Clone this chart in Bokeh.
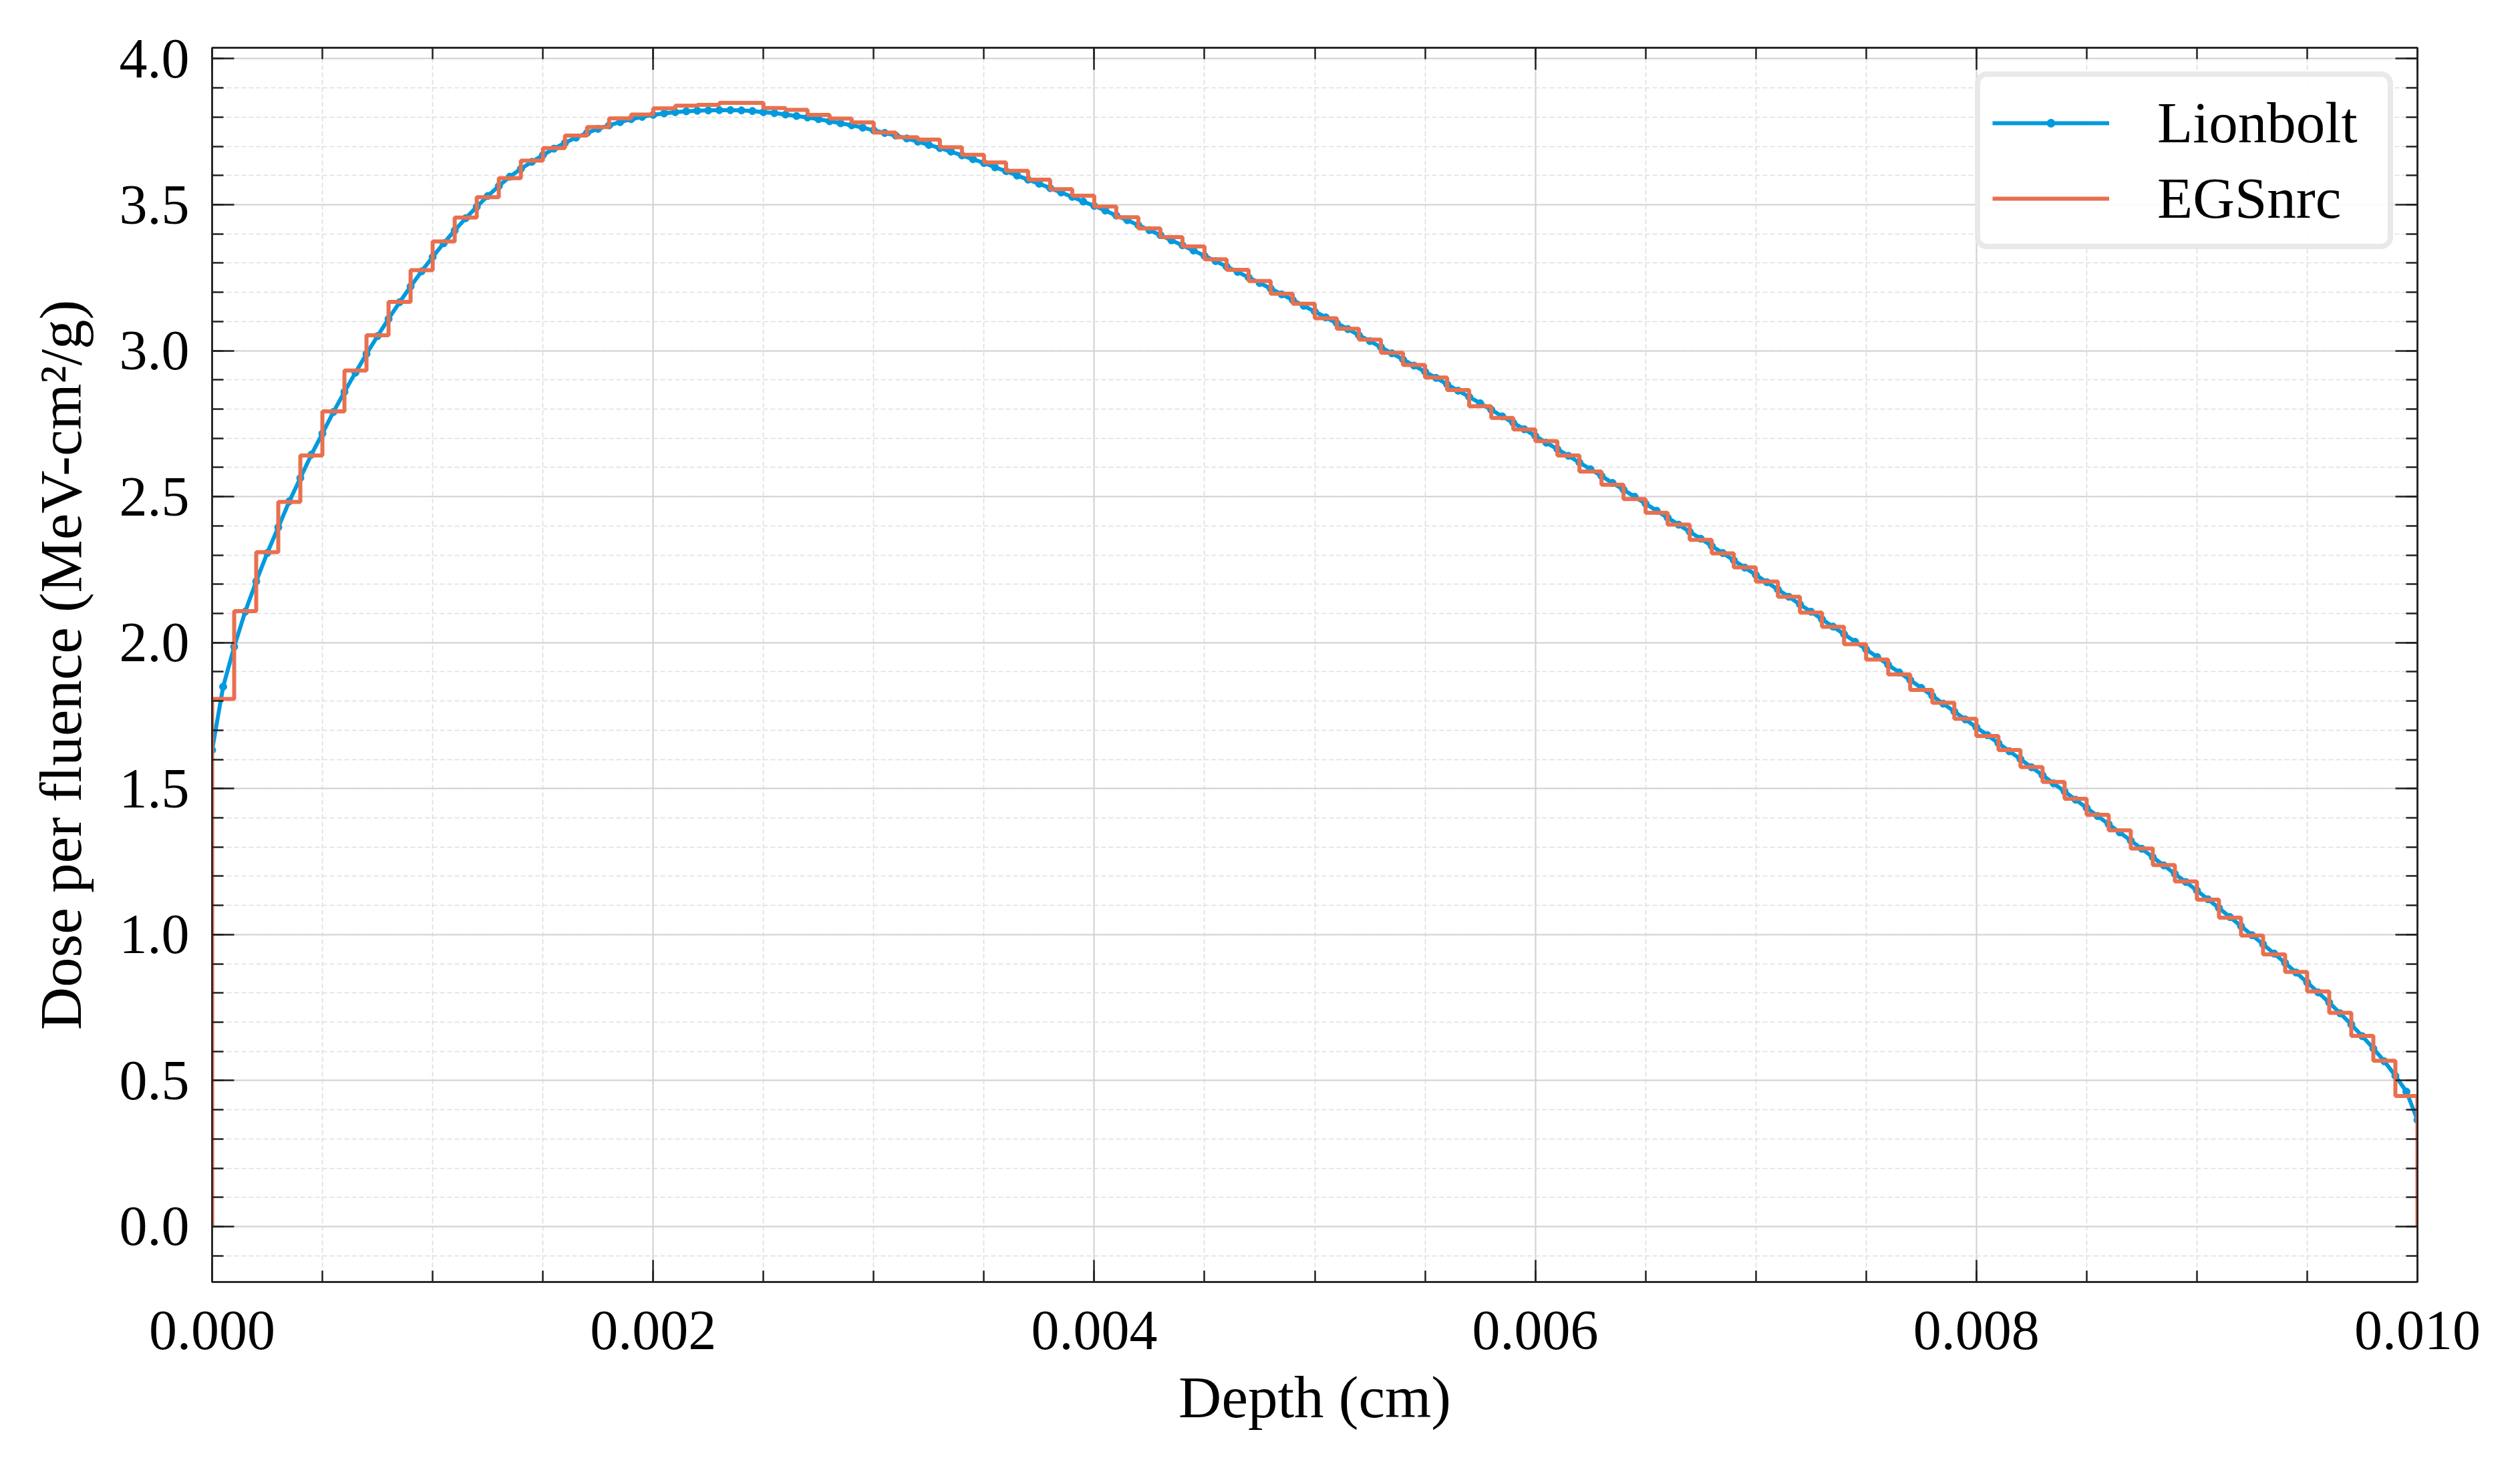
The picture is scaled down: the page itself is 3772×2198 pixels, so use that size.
import numpy as np
from bokeh.plotting import figure
from bokeh.models import (Range1d, FixedTicker, PrintfTickFormatter, LinearAxis,
                          CustomJSTickFormatter, Legend, LegendItem)
from bokeh.embed import file_html
from bokeh.resources import INLINE

# ---------------- data ----------------
depth_lionbolt = np.linspace(0.0, 0.01, 201)
dose_lionbolt = [
    1.632, 1.849, 1.986, 2.106, 2.210, 2.307, 2.395, 2.484, 2.564, 2.644,
    2.716, 2.790, 2.859, 2.925, 2.989, 3.050, 3.109, 3.166, 3.220, 3.272,
    3.321, 3.368, 3.412, 3.454, 3.493, 3.530, 3.564, 3.596, 3.623, 3.647,
    3.670, 3.692, 3.712, 3.730, 3.746, 3.760, 3.772, 3.783, 3.793, 3.801,
    3.808, 3.813, 3.817, 3.820, 3.822, 3.823, 3.824, 3.824, 3.823, 3.821,
    3.817, 3.814, 3.809, 3.804, 3.799, 3.793, 3.786, 3.779, 3.772, 3.764,
    3.755, 3.746, 3.737, 3.727, 3.716, 3.705, 3.694, 3.682, 3.669, 3.656,
    3.643, 3.628, 3.615, 3.600, 3.586, 3.572, 3.557, 3.542, 3.527, 3.511,
    3.496, 3.480, 3.463, 3.447, 3.430, 3.413, 3.396, 3.378, 3.361, 3.343,
    3.325, 3.307, 3.288, 3.270, 3.251, 3.232, 3.213, 3.193, 3.174, 3.154,
    3.134, 3.114, 3.094, 3.074, 3.053, 3.033, 3.012, 2.991, 2.970, 2.949,
    2.928, 2.907, 2.885, 2.863, 2.842, 2.820, 2.798, 2.775, 2.753, 2.731,
    2.708, 2.685, 2.663, 2.640, 2.617, 2.594, 2.571, 2.547, 2.524, 2.500,
    2.476, 2.452, 2.428, 2.404, 2.380, 2.356, 2.331, 2.307, 2.282, 2.257,
    2.232, 2.207, 2.182, 2.157, 2.131, 2.106, 2.080, 2.055, 2.029, 2.003,
    1.977, 1.951, 1.924, 1.898, 1.872, 1.845, 1.818, 1.791, 1.764, 1.737,
    1.710, 1.683, 1.656, 1.628, 1.601, 1.573, 1.546, 1.518, 1.490, 1.462,
    1.434, 1.406, 1.378, 1.350, 1.322, 1.294, 1.265, 1.237, 1.208, 1.180,
    1.151, 1.121, 1.091, 1.060, 1.029, 0.998, 0.967, 0.935, 0.903, 0.870,
    0.836, 0.802, 0.767, 0.730, 0.692, 0.652, 0.610, 0.566, 0.516, 0.462,
    0.365,
]

egs_bin_edges = np.linspace(0.0, 0.01, 101)
dose_egsnrc = [
    1.807, 2.108, 2.310, 2.482, 2.641, 2.792, 2.932, 3.053, 3.167, 3.276,
    3.374, 3.456, 3.526, 3.591, 3.651, 3.694, 3.737, 3.766, 3.796, 3.809,
    3.830, 3.839, 3.842, 3.849, 3.849, 3.831, 3.825, 3.808, 3.795, 3.782,
    3.747, 3.731, 3.723, 3.697, 3.671, 3.645, 3.616, 3.586, 3.553, 3.531,
    3.494, 3.457, 3.419, 3.389, 3.357, 3.313, 3.277, 3.239, 3.195, 3.161,
    3.111, 3.075, 3.038, 2.993, 2.951, 2.908, 2.865, 2.810, 2.770, 2.730,
    2.690, 2.641, 2.586, 2.541, 2.492, 2.445, 2.404, 2.352, 2.306, 2.258,
    2.209, 2.157, 2.103, 2.054, 1.995, 1.942, 1.891, 1.838, 1.794, 1.739,
    1.680, 1.632, 1.574, 1.523, 1.465, 1.410, 1.357, 1.295, 1.238, 1.182,
    1.120, 1.058, 0.997, 0.932, 0.872, 0.805, 0.732, 0.653, 0.568, 0.447,
]

x_major_ticks = [0.0, 0.002, 0.004, 0.006, 0.008, 0.010]
x_minor_ticks = [round(i * 0.0005, 4) for i in range(21)]
y_major_ticks = [0.0, 0.5, 1.0, 1.5, 2.0, 2.5, 3.0, 3.5, 4.0]
y_minor_ticks = [round(-0.1 + 0.1 * i, 1) for i in range(42)]

series_labels = ["Lionbolt", "EGSnrc"]
x_label = "Depth (cm)"
y_label = "Dose per fluence (MeV-cm²/g)"

# ---------------- styling ----------------
BLUE = "#009ADE"
ORANGE = "#E8704F"
INK = "#222222"
FONT = "Liberation Serif"

p = figure(width=3756, height=2182, output_backend="svg", toolbar_location=None,
           x_range=Range1d(0.0, 0.01), y_range=Range1d(-0.19, 4.0377),
           min_border_left=317, min_border_right=138,
           min_border_top=71, min_border_bottom=263,
           x_axis_label=x_label, y_axis_label=y_label)
p.background_fill_color = "white"
p.border_fill_color = "white"
p.outline_line_color = INK
p.outline_line_width = 2.5

xt = FixedTicker(ticks=x_major_ticks, minor_ticks=x_minor_ticks)
yt = FixedTicker(ticks=y_major_ticks, minor_ticks=y_minor_ticks)


def style_axis(ax):
    ax.axis_line_color = INK
    ax.axis_line_width = 2.5
    ax.major_tick_line_color = INK
    ax.major_tick_line_width = 2.5
    ax.minor_tick_line_color = INK
    ax.minor_tick_line_width = 2.5
    ax.major_tick_in = 33
    ax.major_tick_out = 0
    ax.minor_tick_in = 17
    ax.minor_tick_out = 0
    ax.major_label_text_font = FONT
    ax.major_label_text_font_size = "84px"
    ax.major_label_text_color = "black"
    ax.axis_label_text_font = FONT
    ax.axis_label_text_font_size = "89px"
    ax.axis_label_text_font_style = "normal"
    ax.axis_label_text_color = "black"


xa = p.xaxis[0]
ya = p.yaxis[0]
xa.ticker = xt
ya.ticker = yt
xa.formatter = PrintfTickFormatter(format="%.3f")
ya.formatter = PrintfTickFormatter(format="%.1f")
style_axis(xa)
style_axis(ya)
xa.major_label_standoff = 44
xa.axis_label_standoff = 20
ya.major_label_standoff = 34
ya.axis_label_standoff = 36

blank = CustomJSTickFormatter(code="return ''")
top_ax = LinearAxis(ticker=xt, formatter=blank)
right_ax = LinearAxis(ticker=yt, formatter=blank)
for ax in (top_ax, right_ax):
    style_axis(ax)
    ax.major_label_standoff = 0
    ax.major_label_text_font_size = "1px"
p.add_layout(top_ax, "above")
p.add_layout(right_ax, "right")

for g in (p.xgrid[0], p.ygrid[0]):
    g.grid_line_color = "#d2d2d2"
    g.grid_line_width = 2
    g.minor_grid_line_color = "#dedede"
    g.minor_grid_line_width = 1.6
    g.minor_grid_line_dash = "7 4"
p.xgrid[0].ticker = xt
p.ygrid[0].ticker = yt

# ---------------- glyphs ----------------
l_line = p.line(depth_lionbolt, dose_lionbolt, line_color=BLUE, line_width=6)
l_dots = p.scatter(depth_lionbolt, dose_lionbolt, marker="circle", size=11,
                   fill_color=BLUE, line_color=BLUE)

step_x = np.concatenate([[0.0], egs_bin_edges])
step_y = [0.0] + list(dose_egsnrc) + [0.0]
e_step = p.step(step_x, step_y, mode="after", line_color=ORANGE, line_width=6)

legend = Legend(items=[LegendItem(label=series_labels[0], renderers=[l_line, l_dots]),
                       LegendItem(label=series_labels[1], renderers=[e_step])],
                location="top_right")
legend.label_text_font = FONT
legend.label_text_font_size = "87px"
legend.label_text_color = "black"
legend.glyph_width = 175
legend.glyph_height = 30
legend.label_height = 95
legend.label_width = 327
legend.label_standoff = 72
legend.spacing = 12
legend.padding = 18
legend.margin = 36
legend.border_line_color = "#d4d4d4"
legend.border_line_width = 8
legend.background_fill_color = "white"
legend.background_fill_alpha = 0.9
if "border_radius" in Legend.properties():
    legend.border_radius = 18
p.add_layout(legend)

open("out.html", "w").write(file_html(p, INLINE))
